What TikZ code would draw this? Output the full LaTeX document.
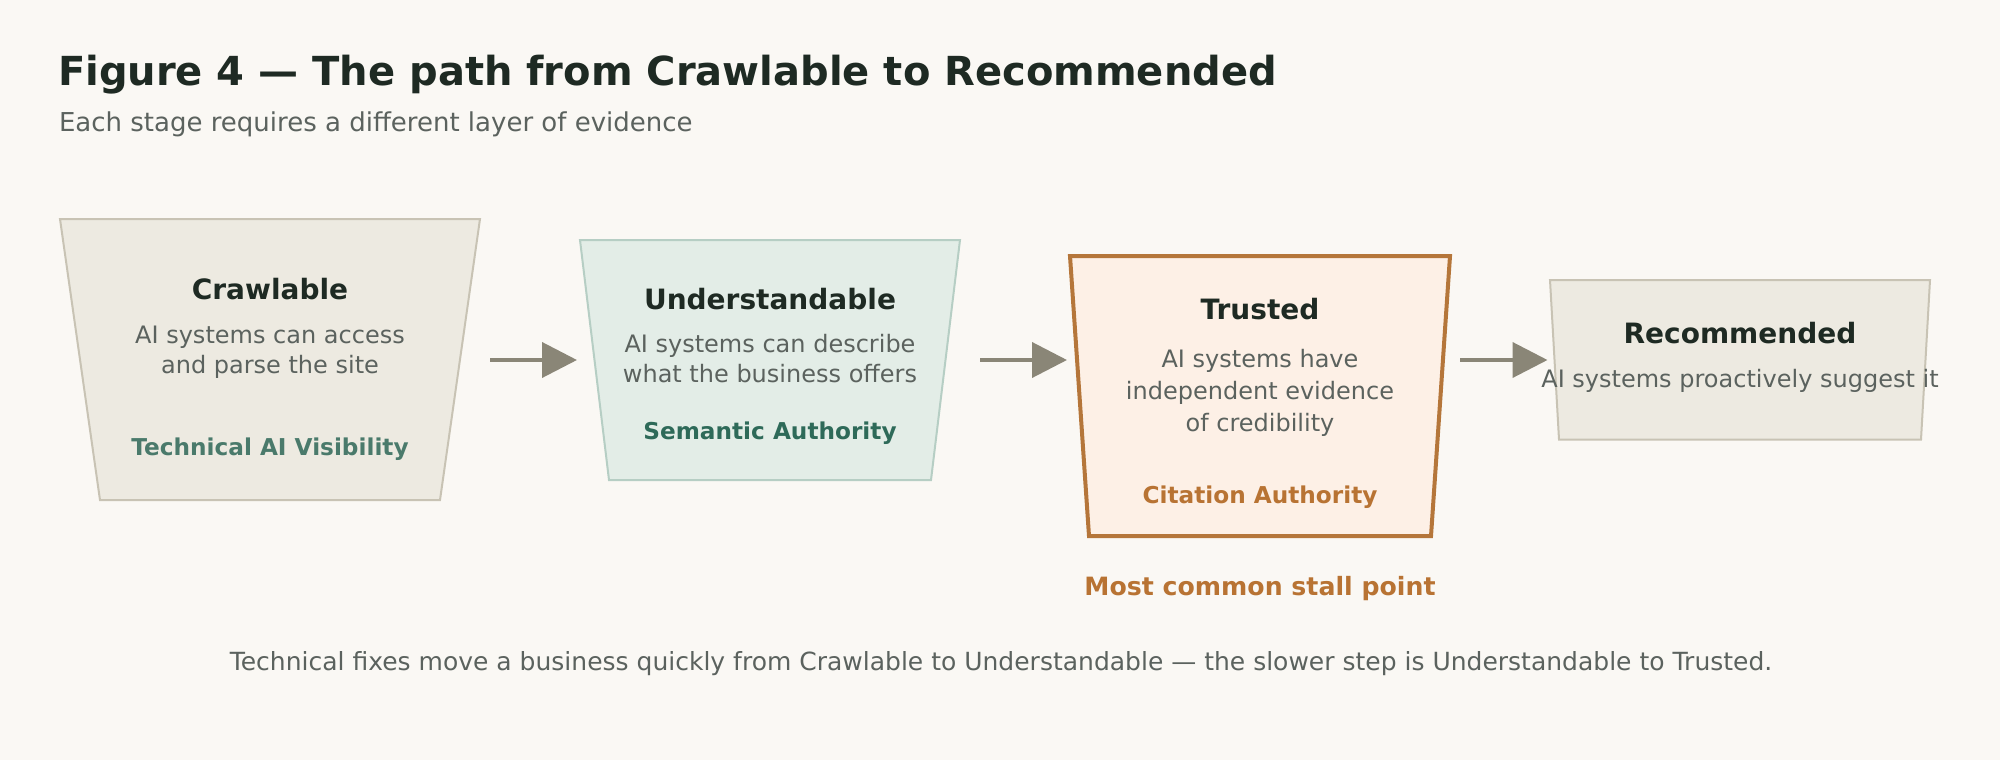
\documentclass[tikz,border=0pt]{standalone}
\usepackage{fontspec}
\setmainfont{DejaVu Sans}
\usetikzlibrary{arrows.meta}
\definecolor{bgc}{HTML}{FAF8F4}
\definecolor{neutfill}{HTML}{EDEAE1}
\definecolor{neutline}{HTML}{C8C3B4}
\definecolor{greenfill}{HTML}{E3EDE7}
\definecolor{greenline}{HTML}{B6CEC4}
\definecolor{orfill}{HTML}{FDF0E6}
\definecolor{orline}{HTML}{B5763A}
\definecolor{ink}{HTML}{1E2A23}
\definecolor{muted}{HTML}{5B625E}
\definecolor{tealtxt}{HTML}{4A7A6B}
\definecolor{greentxt}{HTML}{2E6A59}
\definecolor{ortxt}{HTML}{B87333}
\definecolor{arrowc}{HTML}{8A8677}
\tikzset{
  txt/.style={anchor=base, inner sep=0pt, outer sep=0pt},
  figtitle/.style={txt, anchor=base west, text=ink, font=\fontsize{40}{48}\selectfont\bfseries},
  figsub/.style={txt, anchor=base west, text=muted, font=\fontsize{26}{31}\selectfont},
  stagetitle/.style={txt, text=ink, font=\fontsize{28}{34}\selectfont\bfseries},
  stagedesc/.style={txt, text=muted, font=\fontsize{24}{30}\selectfont},
  stagelabel/.style={txt, font=\fontsize{23.2}{28}\selectfont\bfseries},
  neutbox/.style={fill=neutfill, draw=neutline, line width=2pt},
  greenbox/.style={fill=greenfill, draw=greenline, line width=2pt},
  orbox/.style={fill=orfill, draw=orline, line width=4pt},
  flow/.style={draw=arrowc, line width=4pt, -{Triangle[length=35pt,width=35pt]}},
}
\begin{document}
\begin{tikzpicture}[x=1pt, y=-1pt]
\useasboundingbox[fill=bgc] (0,0) rectangle (2000,760);

% Title
\node[figtitle] (title) at (58,85) {Figure 4 — The path from Crawlable to Recommended};
\node[figsub] (subtitle) at (59,131.7) {Each stage requires a different layer of evidence};

% Stage 1: Crawlable
\draw[neutbox] (60,219) -- (480,219) -- (440,500) -- (100,500) -- cycle;
\node[stagetitle] (crawlT) at (270,299.3) {Crawlable};
\node[stagedesc] (crawlD1) at (270,343.3) {AI systems can access};
\node[stagedesc] (crawlD2) at (270,373.3) {and parse the site};
\node[stagelabel, text=tealtxt] (crawlL) at (270,455) {Technical AI Visibility};

% Stage 2: Understandable
\draw[greenbox] (580,240) -- (960,240) -- (931,480) -- (609,480) -- cycle;
\node[stagetitle] (undT) at (770,309.3) {Understandable};
\node[stagedesc] (undD1) at (770,352.6) {AI systems can describe};
\node[stagedesc] (undD2) at (770,382.6) {what the business offers};
\node[stagelabel, text=greentxt] (undL) at (770,439.3) {Semantic Authority};

% Stage 3: Trusted
\draw[orbox] (1070,256) -- (1450,256) -- (1431,536) -- (1089,536) -- cycle;
\node[stagetitle] (truT) at (1260,319.3) {Trusted};
\node[stagedesc] (truD1) at (1260,367.3) {AI systems have};
\node[stagedesc] (truD2) at (1260,399) {independent evidence};
\node[stagedesc] (truD3) at (1260,431) {of credibility};
\node[stagelabel, text=ortxt] (truL) at (1260,503.3) {Citation Authority};

% Stage 4: Recommended
\draw[neutbox] (1550,280) -- (1930,280) -- (1921,439.5) -- (1559,439.5) -- cycle;
\node[stagetitle] (recT) at (1740,343.3) {Recommended};
\node[stagedesc] (recD1) at (1740,387.3) {AI systems proactively suggest it};

% Arrows
\coordinate (a1s) at (490,360);
\coordinate (a1e) at (577,360);
\coordinate (a2s) at (980,360);
\coordinate (a2e) at (1067,360);
\coordinate (a3s) at (1460,360);
\coordinate (a3e) at (1547.5,360);
\draw[flow] (a1s) -- (a1e);
\draw[flow] (a2s) -- (a2e);
\draw[flow] (a3s) -- (a3e);

% Stall note
\node[txt, text=ortxt, font=\fontsize{25.2}{30}\selectfont\bfseries] (stall) at (1260,595) {Most common stall point};

% Footer
\node[txt, text=muted, font=\fontsize{25}{30}\selectfont] (footer) at (1001,670) {Technical fixes move a business quickly from Crawlable to Understandable — the slower step is Understandable to Trusted.};
\end{tikzpicture}
\end{document}
